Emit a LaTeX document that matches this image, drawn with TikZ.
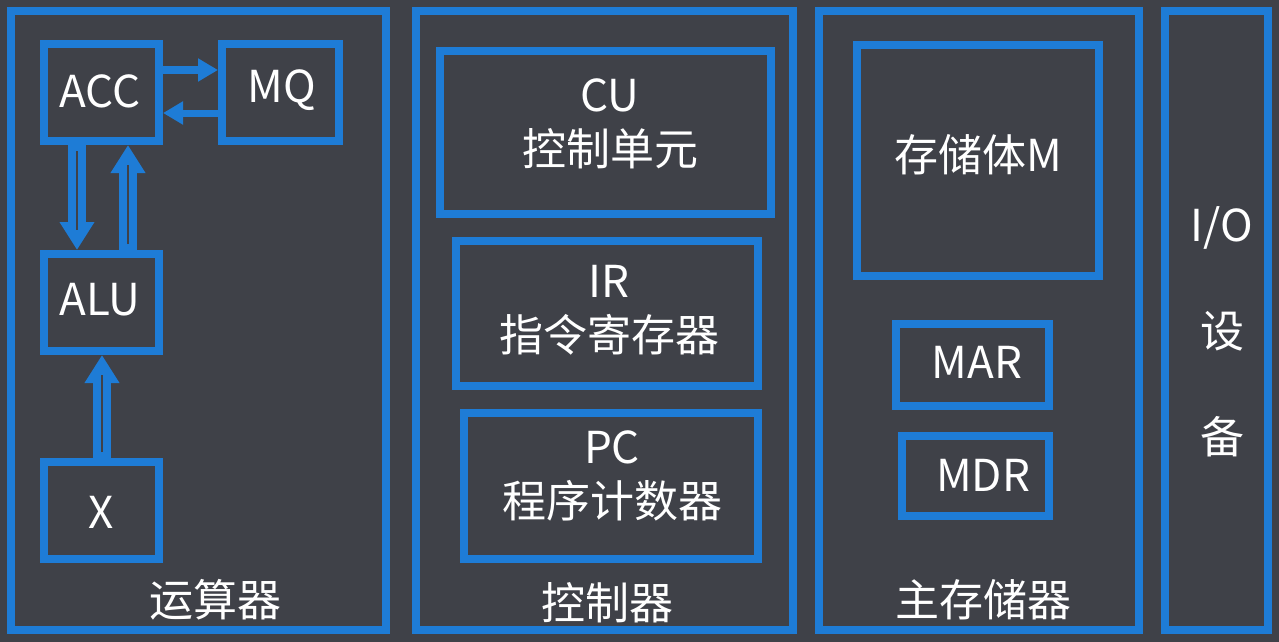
\documentclass[tikz,border=0pt]{standalone}
\usepackage{fontspec}
\setmainfont{Noto Sans CJK SC}
\usetikzlibrary{arrows.meta}
\definecolor{bg}{RGB}{63,65,72}
\definecolor{bl}{RGB}{30,124,214}
\begin{document}
\begin{tikzpicture}[x=1pt,y=-1pt,
  box/.style={draw=bl, line width=8pt, inner sep=0pt, outer sep=4pt},
  txt/.style={text=white, inner sep=0pt, font=\fontsize{44}{54}\selectfont, align=center},
  harrow/.style={draw=bl, line width=7pt, -{Triangle[width=22pt,length=20pt]}},
  dblarrow/.style={draw=bl, line width=18pt, -{Triangle[width=33pt,length=28pt]}},
  dblcore/.style={draw=bg, line width=1.5pt, shorten >=20pt, shorten <=6pt}]
\fill[bg] (0,0) rectangle (1279,642);
\useasboundingbox (0,0) rectangle (1279,642);
% panels
\node[box, minimum width=375pt, minimum height=619pt] (p1) at (198.5,320.5) {};
\node[box, minimum width=377pt, minimum height=619pt] (p2) at (604.5,320.5) {};
\node[box, minimum width=320pt, minimum height=619pt] (p3) at (979,320.5) {};
\node[box, minimum width=103pt, minimum height=619pt] (p4) at (1216.5,320.5) {};
\node[txt] (l1) at (215,600) {运算器};
\node[txt] (l2) at (607,603) {控制器};
\node[txt] (l3) at (983,600) {主存储器};
\node[txt, font=\fontsize{44}{106}\selectfont] (l4) at (1222,332) {I/O\\设\\备};
% ALU panel
\node[box, minimum width=115pt, minimum height=97pt] (acc) at (101.5,92.5) {};
\node[box, minimum width=117pt, minimum height=97pt] (mq) at (280.5,92.5) {};
\node[box, minimum width=115pt, minimum height=97pt] (alu) at (101.5,302.5) {};
\node[box, minimum width=115pt, minimum height=97pt] (xr) at (101.5,510.5) {};
\node[txt] at (100,91) {ACC};
\node[txt] at (282,90) {MQ};
\node[txt] at (100,300) {ALU};
\node[txt] at (101,512) {X};
\draw[harrow] ([yshift=22.5pt]acc.east) -- ([yshift=22.5pt]mq.west);
\draw[harrow] ([yshift=-20.5pt]mq.west) -- ([yshift=-20.5pt]acc.east);
\draw[dblarrow] ([xshift=-24.5pt]acc.south) -- ([xshift=-24.5pt]alu.north);
\draw[dblcore] ([xshift=-24.5pt]acc.south) -- ([xshift=-24.5pt]alu.north);
\draw[dblarrow] ([xshift=26.5pt]alu.north) -- ([xshift=26.5pt]acc.south);
\draw[dblcore] ([xshift=26.5pt]alu.north) -- ([xshift=26.5pt]acc.south);
\draw[dblarrow] ([xshift=0.5pt]xr.north) -- ([xshift=0.5pt]alu.south);
\draw[dblcore] ([xshift=0.5pt]xr.north) -- ([xshift=0.5pt]alu.south);
% control panel
\node[box, minimum width=331pt, minimum height=163pt] (cu) at (605.5,132.5) {};
\node[box, minimum width=302pt, minimum height=145pt] (ir) at (607,313.5) {};
\node[box, minimum width=294pt, minimum height=146pt] (pc) at (611,486) {};
\node[txt] at (610,124) {CU\\控制单元};
\node[txt] at (609,310) {IR\\指令寄存器};
\node[txt] at (612,476) {PC\\程序计数器};
% memory panel
\node[box, minimum width=242pt, minimum height=231pt] (mem) at (978,160.5) {};
\node[box, minimum width=153pt, minimum height=82pt] (mar) at (972.5,365) {};
\node[box, minimum width=147pt, minimum height=80pt] (mdr) at (975.5,476) {};
\node[txt] at (978,155) {存储体M};
\node[txt] at (977,362) {MAR};
\node[txt] at (983,475) {MDR};
\end{tikzpicture}
\end{document}
